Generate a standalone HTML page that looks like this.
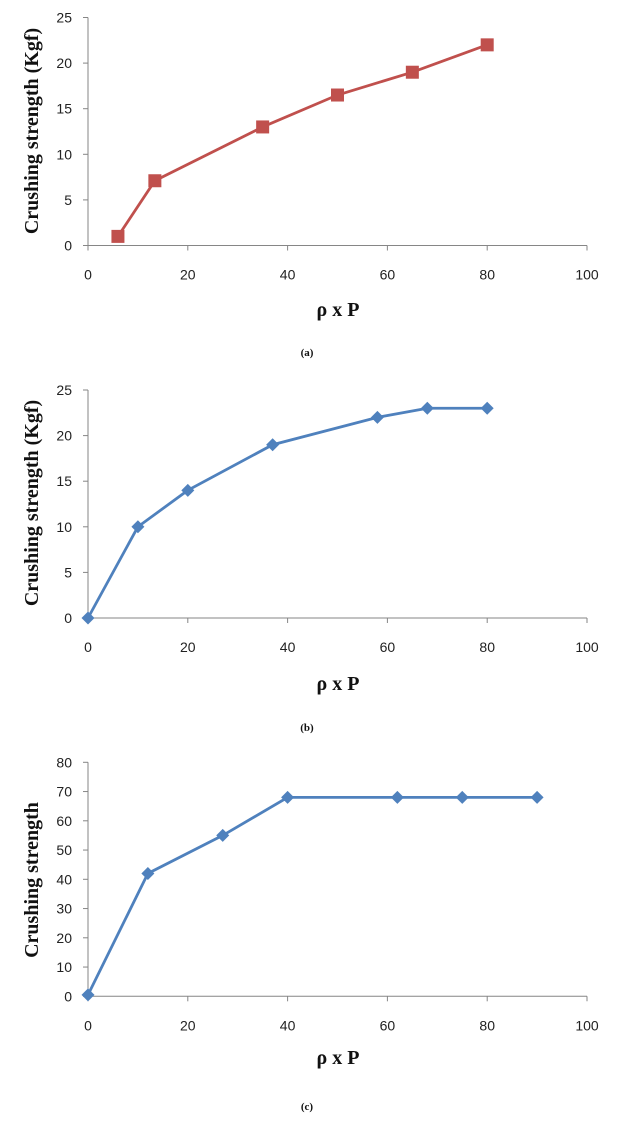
<!DOCTYPE html>
<html><head><meta charset="utf-8"><style>
body{margin:0;background:#fff;width:625px;height:1118px;overflow:hidden}
svg text{font-family:"Liberation Sans",sans-serif}
.t{font-size:14px;fill:#222}
.ti{font-family:"Liberation Serif",serif!important;font-weight:bold;font-size:20px;fill:#111}
.cap{font-family:"Liberation Serif",serif!important;font-weight:bold;font-size:11px;fill:#111}
</style></head><body>
<svg id="s" width="625" height="1118" xmlns="http://www.w3.org/2000/svg"></svg>
<script>
const xA=[6,13.4,35,50,65,80];
const yA=[1,7.1,13,16.5,19,22];
const xB=[0,10,20,37,58,68,80];
const yB=[0,10,14,19,22,23,23];
const xC=[0,12,27,40,62,75,90];
const yC=[0.5,42,55,68,68,68,68];
const xTicks=[0,20,40,60,80,100];
const yTicksA=[0,5,10,15,20,25];
const yTicksC=[0,10,20,30,40,50,60,70,80];
const NS="http://www.w3.org/2000/svg";
const svg=document.getElementById('s');
function mk(t,a,p){const e=document.createElementNS(NS,t);for(const k in a)e.setAttribute(k,a[k]);(p||svg).appendChild(e);return e;}
function chart(cfg){
 const g=mk('g',{});
 
 
 const X=v=>88+v*(587-88)/100;
 const Y=v=>cfg.y0-(v-cfg.ymin)*(cfg.y0-cfg.ytop)/(cfg.ymax-cfg.ymin);
 const ax=mk('path',{d:`M88,${cfg.ytop}V${cfg.y0}H587`,stroke:'#868686',fill:'none','stroke-width':1},g);
 
 
 cfg.yt.forEach(v=>{
  mk('line',{x1:83,x2:88,y1:Y(v),y2:Y(v),stroke:'#868686'},g);
  const t=mk('text',{x:72,y:Y(v)+5,'text-anchor':'end',class:'t'},g);t.textContent=v;
  
  
 });
 xTicks.forEach(v=>{
  mk('line',{x1:X(v),x2:X(v),y1:cfg.y0,y2:cfg.y0+5,stroke:'#868686'},g);
  const t=mk('text',{x:X(v),y:cfg.y0+34,'text-anchor':'middle',class:'t'},g);t.textContent=v;
  
  
 });
 const pts=cfg.xs.map((x,i)=>X(x)+','+Y(cfg.ys[i])).join(' ');
 const ln=mk('polyline',{points:pts,fill:'none',stroke:cfg.col,'stroke-width':2.8},g);
 
 
 cfg.xs.forEach((x,i)=>{
  const cx=X(x),cy=Y(cfg.ys[i]);let m;
  if(cfg.sq)m=mk('rect',{x:cx-6.5,y:cy-6.5,width:13,height:13,fill:cfg.col},g);
  else m=mk('path',{d:`M${cx},${cy-6.5}L${cx+6.5},${cy}L${cx},${cy+6.5}L${cx-6.5},${cy}Z`,fill:cfg.col},g);
  
  
 });
 const yt=mk('text',{x:0,y:0,'text-anchor':'middle',class:'ti',transform:`translate(38,${cfg.ytc}) rotate(-90)`},g);
 yt.textContent=cfg.ytitle;
 
 
 const xt=mk('text',{x:338,y:cfg.xty,'text-anchor':'middle',class:'ti'},g);
 xt.textContent=cfg.xtitle;
 
 
 const c=mk('text',{x:307,y:cfg.capy,'text-anchor':'middle',class:'cap'},g);
 c.textContent=cfg.cap;
 
 
}
chart({name:'chart-a',xs:xA,ys:yA,ymin:0,ymax:25,y0:245.5,ytop:17.5,yt:yTicksA,col:'#c0504d',sq:true,ytitle:'Crushing strength (Kgf)',ytc:131,xtitle:'ρ  x P',xty:316,cap:'(a)',capy:356});
chart({name:'chart-b',xs:xB,ys:yB,ymin:0,ymax:25,y0:618,ytop:390,yt:yTicksA,col:'#4f81bd',sq:false,ytitle:'Crushing strength (Kgf)',ytc:503,xtitle:'ρ x P',xty:690,cap:'(b)',capy:731});
chart({name:'chart-c',xs:xC,ys:yC,ymin:0,ymax:80,y0:996.3,ytop:762.3,yt:yTicksC,col:'#4f81bd',sq:false,ytitle:'Crushing strength',ytc:880,xtitle:'ρ  x P',xty:1064,cap:'(c)',capy:1110});
</script>
</body></html>
